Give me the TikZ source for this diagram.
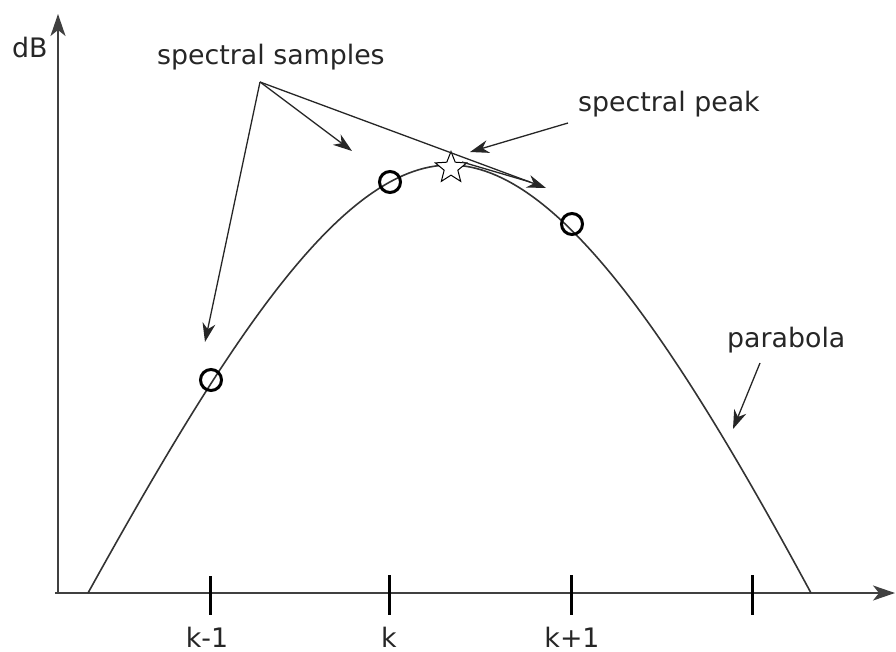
\documentclass[tikz,border=0pt]{standalone}
\usepackage{fontspec}
\setmainfont{DejaVu Sans}
\usetikzlibrary{arrows.meta,shapes.geometric}
\begin{document}
\begin{tikzpicture}[x=1pt,y=-1pt,
  lbl/.style={font=\fontsize{26.8}{32}\selectfont, text=black!85, inner sep=0pt},
  axis/.style={line width=2pt, draw=black!75, -{Stealth[length=22pt,width=15pt,inset=6pt]}},
  tickmark/.style={line width=3pt},
  sample/.style={circle, draw, line width=3pt, minimum size=21pt, inner sep=0pt},
  peakstar/.style={star, star points=5, star point ratio=2.3, draw, fill=white, line width=1pt, minimum size=33pt, inner sep=0pt},
  pointer/.style={line width=1.3pt, draw=black!85, -{Stealth[length=19pt,width=13pt,inset=6pt]}},
  curveline/.style={line width=1.6pt, draw=black!80},
]
\useasboundingbox (0,0) rectangle (896,652);
% axes
\coordinate (O) at (55,593);
\coordinate (ytip) at (58,14);
\coordinate (ybase) at (58,593);
\coordinate (xtip) at (895,593);
\draw[axis] (ybase) -- (ytip);
\draw[axis] (O) -- (xtip);
% ticks
\coordinate (t1a) at (210,576); \coordinate (t1b) at (210,615);
\coordinate (t2a) at (389,575); \coordinate (t2b) at (389,615);
\coordinate (t3a) at (571,575); \coordinate (t3b) at (571,615);
\coordinate (t4a) at (752,575); \coordinate (t4b) at (752,615);
\draw[tickmark] (t1a) -- (t1b);
\draw[tickmark] (t2a) -- (t2b);
\draw[tickmark] (t3a) -- (t3b);
\draw[tickmark] (t4a) -- (t4b);
% tick labels
\node[lbl, anchor=base] (lkm) at (207,647) {k-1};
\node[lbl, anchor=base] (lk) at (389,647) {k};
\node[lbl, anchor=base] (lkp) at (572,647) {k+1};
\node[lbl, anchor=base west] (ldb) at (12,58) {dB};
% parabola
\coordinate (c0) at (88,593);
\coordinate (ctop) at (450,165);
\coordinate (c1) at (811,593);
\draw[curveline] (c0) .. controls (225,346) and (340,165) .. (ctop)
                      .. controls (560,165) and (681,352.5) .. (c1);
% samples
\node[sample] (s1) at (211,380) {};
\node[sample] (s2) at (390,182) {};
\node[sample] (s3) at (572,224) {};
% peak
\node[peakstar] (pk) at (451,168) {};
% labels
\node[lbl, anchor=base west] (lss) at (157,65) {spectral samples};
\node[lbl, anchor=base west] (lsp) at (578,112) {spectral peak};
\node[lbl, anchor=base west] (lpa) at (727,347) {parabola};
% pointers
\coordinate (ss) at (260,82);
\coordinate (a1) at (205,342);
\coordinate (a2) at (352,151);
\coordinate (a3) at (546,188);
\coordinate (d1) at (462,162);
\coordinate (d2) at (530,182);
\draw[pointer] (ss) -- (a1);
\draw[pointer] (ss) -- (a2);
\draw[pointer] (ss) -- (a3);
\draw[line width=1.3pt, draw=black!85] (d1) -- (d2);
\coordinate (sp) at (568,123);
\coordinate (sptip) at (470,152);
\draw[pointer] (sp) -- (sptip);
\coordinate (pa) at (760,363);
\coordinate (patip) at (733,429);
\draw[pointer] (pa) -- (patip);
\end{tikzpicture}
\end{document}
